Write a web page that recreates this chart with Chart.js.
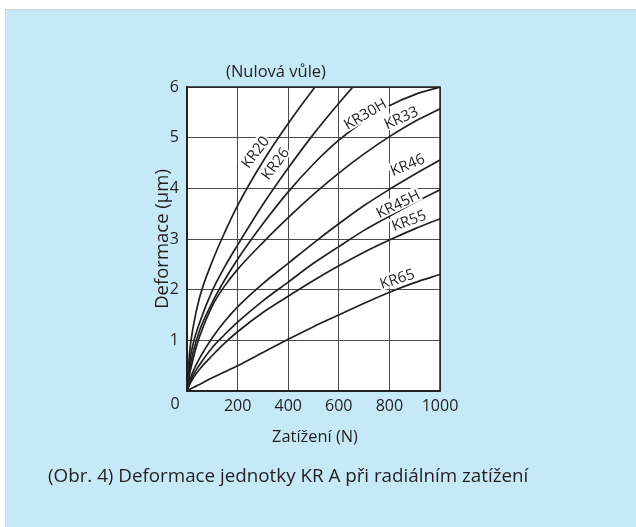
<!DOCTYPE html>
<html lang="cs">
<head>
<meta charset="utf-8">
<script src="https://cdn.jsdelivr.net/npm/chart.js@4"></script>
<style>
    html, body { margin: 0; padding: 0; background: #fff; }
    body { width: 636px; height: 527px; position: relative; overflow: hidden; }
    #panel { position: absolute; left: 5px; top: 9px; right: 0; bottom: 0; background: #c6e9f8; border-top: 1px solid #d0d0d0; border-left: 1px solid #d8d8d8; }
    #deformChart { position: absolute; left: 0; top: 0; }
</style>
</head>
<body>
<div id="panel"></div>
<canvas id="deformChart" width="636" height="527"></canvas>
<script>
// Zatížení (N)
const loads = [0, 10, 25, 50, 100, 150, 200, 300, 400, 500, 600, 700, 800, 900, 1000];

// Deformace (µm) pro jednotlivé typy
const kr20  = [0, 0.75, 1.28, 1.85, 2.56, 3.14, 3.66, 4.53, 5.28, 5.96, 6.58, null, null, null, null];
const kr26  = [0, 0.55, 0.95, 1.35, 1.98, 2.46, 2.88, 3.68, 4.4, 5.07, 5.68, 6.25, null, null, null];
const kr30h = [0, 0.42, 0.78, 1.2, 1.75, 2.2, 2.6, 3.3, 3.93, 4.48, 4.95, 5.33, 5.63, 5.85, 6.0];
const kr33  = [0, 0.32, 0.65, 1.08, 1.68, 2.08, 2.4, 2.93, 3.42, 3.88, 4.3, 4.68, 5.02, 5.32, 5.57];
const kr46  = [0, 0.2, 0.4, 0.65, 1.05, 1.38, 1.66, 2.12, 2.52, 2.92, 3.3, 3.66, 3.98, 4.28, 4.56];
const kr45h = [0, 0.15, 0.32, 0.52, 0.86, 1.12, 1.36, 1.78, 2.15, 2.52, 2.85, 3.17, 3.45, 3.72, 3.97];
const kr55  = [0, 0.12, 0.26, 0.43, 0.7, 0.95, 1.17, 1.55, 1.87, 2.18, 2.47, 2.74, 2.98, 3.2, 3.4];
const kr65  = [0, 0.03, 0.07, 0.13, 0.26, 0.38, 0.5, 0.76, 1.02, 1.27, 1.5, 1.73, 1.95, 2.14, 2.3];

const seriesNames = ['KR20', 'KR26', 'KR30H', 'KR33', 'KR46', 'KR45H', 'KR55', 'KR65'];
const seriesValues = [kr20, kr26, kr30h, kr33, kr46, kr45h, kr55, kr65];

// popisky křivek: střed textu v souřadnicích grafu a natočení (stupně)
const curveLabels = [
    { text: 'KR20',  x: 269, y: 4.72, angle: -53 },
    { text: 'KR26',  x: 348, y: 4.49, angle: -53 },
    { text: 'KR30H', x: 704, y: 5.47, angle: -30 },
    { text: 'KR33',  x: 846, y: 5.40, angle: -24 },
    { text: 'KR46',  x: 871, y: 4.47, angle: -23 },
    { text: 'KR45H', x: 834, y: 3.70, angle: -26 },
    { text: 'KR55',  x: 877, y: 3.37, angle: -20 },
    { text: 'KR65',  x: 830, y: 2.22, angle: -18 }
];

const FONT = '"Open Sans", "Noto Sans", sans-serif';
const INK = '#231f20';

// nastaví velikost písma tak, aby text měl danou šířku
function fitFont(ctx, text, width) {
    ctx.font = '20px ' + FONT;
    const size = 20 * width / ctx.measureText(text).width;
    ctx.font = size.toFixed(1) + 'px ' + FONT;
}

const textPlugin = {
    id: 'textPlugin',
    beforeDraw(chart) {
        const { ctx, chartArea } = chart;
        ctx.save();
        ctx.fillStyle = '#fff';
        ctx.fillRect(chartArea.left, chartArea.top, chartArea.right - chartArea.left, chartArea.bottom - chartArea.top);
        ctx.restore();
    },
    afterDatasetsDraw(chart) {
        const { ctx, chartArea, scales } = chart;
        const xs = scales.x, ys = scales.y;
        ctx.save();
        ctx.font = '15px ' + FONT;
        ctx.textAlign = 'center';
        ctx.textBaseline = 'middle';
        curveLabels.forEach(l => {
            const px = xs.getPixelForValue(l.x);
            const py = ys.getPixelForValue(l.y);
            const w = ctx.measureText(l.text).width;
            ctx.save();
            ctx.translate(px, py);
            ctx.rotate(l.angle * Math.PI / 180);
            ctx.fillStyle = '#fff';
            ctx.fillRect(-w / 2 - 1, -8, w + 2, 15);
            ctx.fillStyle = INK;
            ctx.fillText(l.text, 0, 1);
            ctx.restore();
        });

        // hranice grafu
        ctx.strokeStyle = INK;
        ctx.lineWidth = 1.5;
        ctx.strokeRect(chartArea.left, chartArea.top, chartArea.right - chartArea.left, chartArea.bottom - chartArea.top);

        // společná nula v rohu
        ctx.fillStyle = INK;
        ctx.font = '16px ' + FONT;
        ctx.fillText('0', xs.getPixelForValue(0) - 12, chartArea.bottom + 13);

        // podnázev, osy, popis obrázku
        fitFont(ctx, '(Nulová vůle)', 100);
        ctx.fillText('(Nulová vůle)', 276, 72);
        fitFont(ctx, 'Zatížení (N)', 86);
        ctx.fillText('Zatížení (N)', 315, 437);
        ctx.save();
        ctx.translate(163, 239);
        ctx.rotate(-Math.PI / 2);
        fitFont(ctx, 'Deformace (μm)', 140);
        ctx.fillText('Deformace (μm)', 0, 0);
        ctx.restore();

        const caption = '(Obr. 4) Deformace jednotky KR A při radiálním zatížení';
        fitFont(ctx, caption, 480);
        ctx.textAlign = 'left';
        ctx.fillText(caption, 48, 477);
        ctx.restore();
    }
};

function buildDatasets() {
    return seriesNames.map((name, s) => ({
        label: name,
        data: loads.map((x, i) => ({ x: x, y: seriesValues[s][i] })),
        borderColor: INK,
        borderWidth: 1.7,
        pointRadius: 0,
        cubicInterpolationMode: 'monotone',
        spanGaps: false
    }));
}

const ctx = document.getElementById('deformChart').getContext('2d');
const chart = new Chart(ctx, {
    type: 'line',
    data: { datasets: buildDatasets() },
    options: {
        responsive: false,
        animation: false,
        layout: { padding: { left: 0, right: 196, top: 87, bottom: 0 } },
        plugins: { legend: { display: false }, tooltip: { enabled: false } },
        scales: {
            x: {
                type: 'linear',
                min: 0,
                max: 1000,
                ticks: {
                    stepSize: 200,
                    padding: 6,
                    color: INK,
                    font: { family: FONT, size: 16 },
                    callback: v => v === 0 ? '' : v
                },
                grid: { color: '#4a4a4a', lineWidth: 1, drawTicks: false },
                border: { color: INK, width: 1.5 },
                afterFit: s => { s.height = 136; }
            },
            y: {
                min: 0,
                max: 6,
                ticks: {
                    stepSize: 1,
                    padding: 8,
                    color: INK,
                    font: { family: FONT, size: 16 },
                    callback: v => v === 0 ? '' : v
                },
                grid: { color: '#4a4a4a', lineWidth: 1, drawTicks: false },
                border: { color: INK, width: 1.5 },
                afterFit: s => { s.width = 187; }
            }
        }
    },
    plugins: [textPlugin]
});
</script>
</body>
</html>
